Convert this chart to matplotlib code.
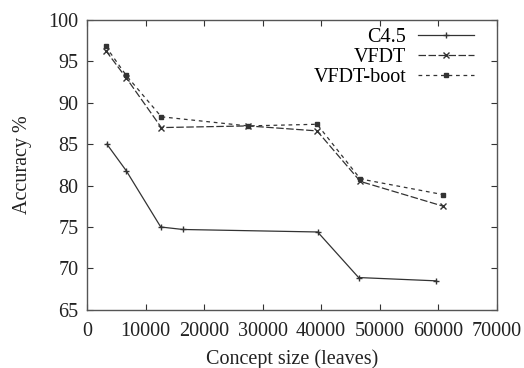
import matplotlib
matplotlib.use("Agg")
import matplotlib.pyplot as plt

c45_x = [3400, 6700, 12600, 16400, 39400, 46400, 59700]
c45_y = [85.0, 81.8, 75.0, 74.7, 74.4, 68.9, 68.5]

vfdt_x = [3200, 6700, 12700, 27500, 39300, 46700, 60900]
vfdt_y = [96.3, 93.0, 87.0, 87.2, 86.6, 80.5, 77.5]

boot_x = [3200, 6700, 12700, 27500, 39300, 46700, 60900]
boot_y = [96.8, 93.3, 88.3, 87.2, 87.4, 80.8, 78.9]

plt.rcParams["font.family"] = ["Liberation Serif", "DejaVu Serif"]
plt.rcParams["font.size"] = 14.5

fig = plt.figure(figsize=(5.24, 3.68), dpi=100)
ax = fig.add_axes([0.166, 0.158, 0.782, 0.788])

col = "#333333"
ax.plot(c45_x, c45_y, "-", marker="+", ms=4.5, lw=0.9, color=col, label="C4.5")
ax.plot(vfdt_x, vfdt_y, linestyle=(0, (6, 2)), marker="x", ms=4, lw=0.9, color=col, label="VFDT")
ax.plot(boot_x, boot_y, linestyle=(0, (3, 3)), marker="s", ms=3.5, lw=0.9, color=col, label="VFDT-boot")

ax.set_xlim(0, 70000)
ax.set_ylim(65, 100)
ax.set_xticks(range(0, 70001, 10000))
ax.set_yticks(range(65, 101, 5))
ax.tick_params(direction="in", top=True, right=True, length=4, width=0.8, colors=col, labelcolor="#222222")
ax.tick_params(axis="x", pad=9)
ax.tick_params(axis="y", pad=6)
for s in ax.spines.values():
    s.set_color("#555555")
    s.set_linewidth(1.0)

ax.set_xlabel("Concept size (leaves)", color="#222222", labelpad=6)
ax.set_ylabel("Accuracy %", color="#222222", labelpad=12)

ax.legend(loc="upper right", frameon=False, markerfirst=False, handlelength=2.75,
          labelspacing=0.05, borderpad=0, borderaxespad=0, handletextpad=0.6,
          bbox_to_anchor=(0.944, 0.972))

fig.savefig("out.png", dpi=100)
